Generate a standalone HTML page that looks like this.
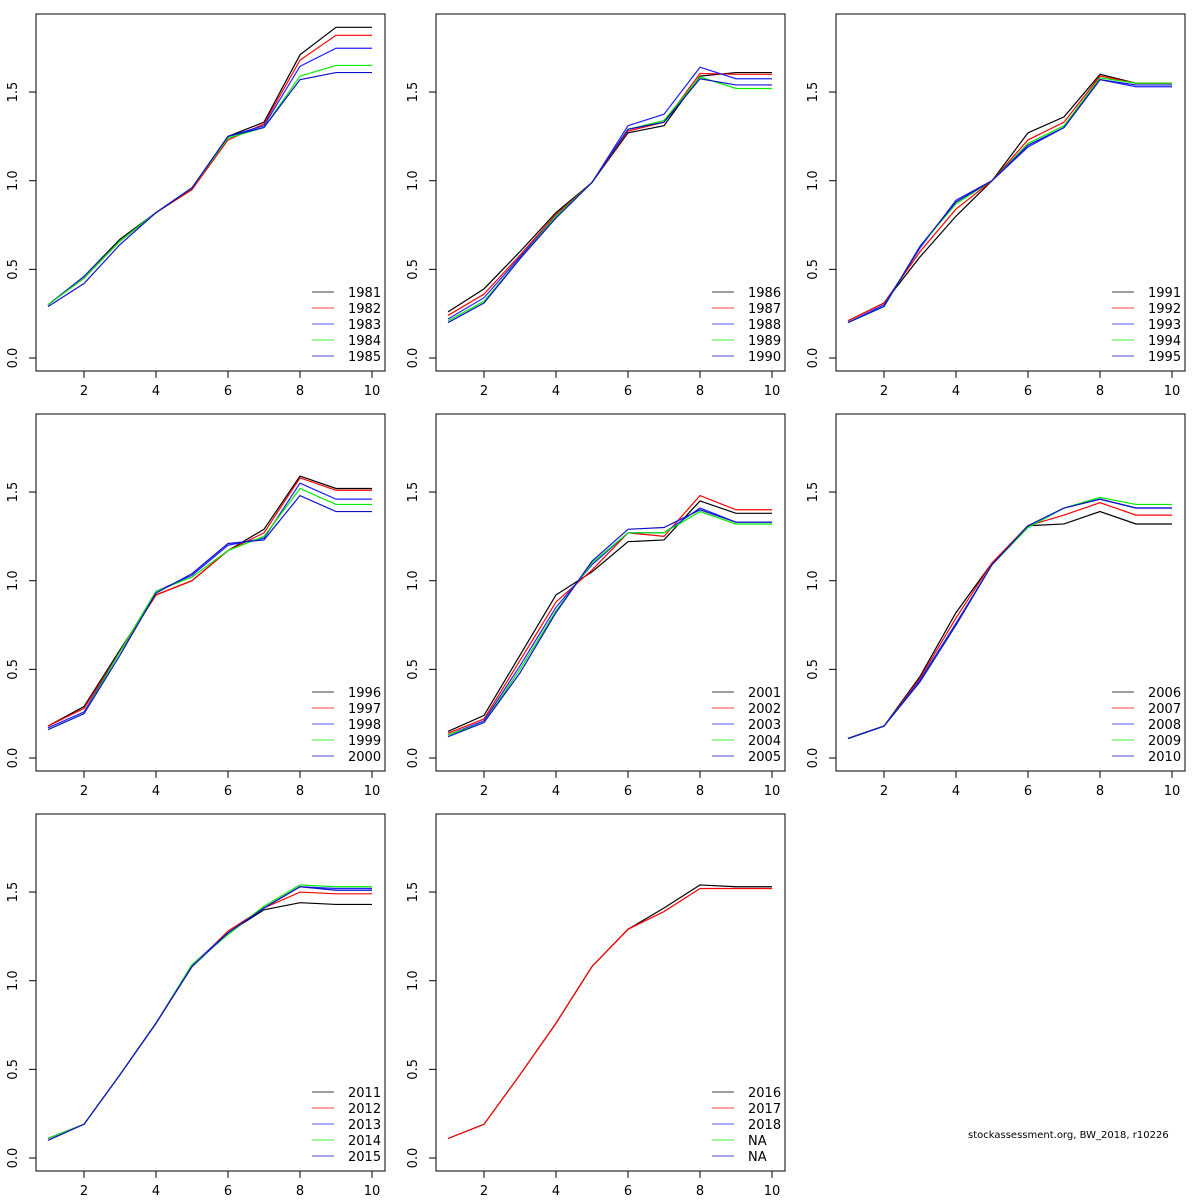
<!DOCTYPE html>
<html><head><meta charset="utf-8"><style>
body{margin:0;background:#fff}
svg{display:block;font-family:"DejaVu Sans","Liberation Sans",sans-serif}
</style></head><body>
<svg id="chart" width="1200" height="1200" xmlns="http://www.w3.org/2000/svg"></svg>
<script>
const ages = [1,2,3,4,5,6,7,8,9,10];
const colors = ["#000000","#ff0000","#2020ff","#00ee00","#1010cc"];
const xTicks = [2,4,6,8,10];
const yTicks = [0,0.5,1.0,1.5];
const yTickLabels = ["0.0","0.5","1.0","1.5"];
const labels1 = ["1981","1982","1983","1984","1985"];
const p1s1 = [0.30,0.46,0.67,0.82,0.95,1.25,1.33,1.71,1.865,1.865];
const p1s2 = [0.30,0.45,0.66,0.82,0.95,1.23,1.32,1.68,1.82,1.82];
const p1s3 = [0.30,0.46,0.66,0.82,0.96,1.25,1.31,1.645,1.747,1.747];
const p1s4 = [0.30,0.45,0.66,0.82,0.96,1.24,1.30,1.59,1.65,1.65];
const p1s5 = [0.29,0.42,0.64,0.82,0.96,1.25,1.30,1.57,1.61,1.61];
const labels2 = ["1986","1987","1988","1989","1990"];
const p2s1 = [0.26,0.39,0.60,0.82,0.99,1.27,1.31,1.59,1.61,1.61];
const p2s2 = [0.24,0.36,0.58,0.81,0.99,1.28,1.33,1.605,1.60,1.60];
const p2s3 = [0.22,0.34,0.57,0.80,0.99,1.31,1.375,1.64,1.575,1.575];
const p2s4 = [0.21,0.32,0.56,0.80,0.99,1.29,1.34,1.585,1.52,1.52];
const p2s5 = [0.20,0.31,0.56,0.79,0.99,1.29,1.33,1.575,1.54,1.54];
const labels3 = ["1991","1992","1993","1994","1995"];
const p3s1 = [0.21,0.31,0.57,0.80,1.00,1.27,1.36,1.60,1.55,1.55];
const p3s2 = [0.21,0.31,0.60,0.84,1.00,1.23,1.33,1.59,1.55,1.55];
const p3s3 = [0.20,0.30,0.62,0.89,1.00,1.19,1.30,1.57,1.53,1.53];
const p3s4 = [0.20,0.29,0.63,0.87,1.00,1.21,1.31,1.58,1.55,1.55];
const p3s5 = [0.20,0.29,0.63,0.88,1.00,1.20,1.30,1.57,1.54,1.54];
const labels4 = ["1996","1997","1998","1999","2000"];
const p4s1 = [0.18,0.29,0.61,0.92,1.00,1.17,1.29,1.59,1.52,1.52];
const p4s2 = [0.18,0.28,0.60,0.92,1.00,1.17,1.27,1.58,1.51,1.51];
const p4s3 = [0.17,0.26,0.60,0.94,1.03,1.20,1.24,1.55,1.46,1.46];
const p4s4 = [0.16,0.25,0.60,0.94,1.02,1.17,1.25,1.52,1.43,1.43];
const p4s5 = [0.16,0.25,0.58,0.93,1.04,1.21,1.23,1.48,1.39,1.39];
const labels5 = ["2001","2002","2003","2004","2005"];
const p5s1 = [0.15,0.24,0.58,0.92,1.05,1.22,1.23,1.45,1.38,1.38];
const p5s2 = [0.14,0.22,0.55,0.88,1.06,1.27,1.25,1.48,1.40,1.40];
const p5s3 = [0.13,0.21,0.52,0.85,1.09,1.27,1.27,1.41,1.33,1.33];
const p5s4 = [0.13,0.20,0.50,0.83,1.10,1.27,1.27,1.39,1.32,1.32];
const p5s5 = [0.12,0.20,0.48,0.82,1.11,1.29,1.30,1.40,1.33,1.33];
const labels6 = ["2006","2007","2008","2009","2010"];
const p6s1 = [0.11,0.18,0.46,0.82,1.10,1.31,1.32,1.39,1.32,1.32];
const p6s2 = [0.11,0.18,0.45,0.79,1.10,1.31,1.37,1.44,1.37,1.37];
const p6s3 = [0.11,0.18,0.44,0.76,1.09,1.30,1.41,1.46,1.41,1.41];
const p6s4 = [0.11,0.18,0.43,0.75,1.09,1.30,1.41,1.47,1.43,1.43];
const p6s5 = [0.11,0.18,0.43,0.75,1.09,1.31,1.41,1.46,1.41,1.41];
const labels7 = ["2011","2012","2013","2014","2015"];
const p7s1 = [0.11,0.19,0.47,0.76,1.08,1.27,1.40,1.44,1.43,1.43];
const p7s2 = [0.11,0.19,0.47,0.76,1.08,1.28,1.41,1.50,1.49,1.49];
const p7s3 = [0.11,0.19,0.47,0.76,1.09,1.27,1.41,1.53,1.52,1.52];
const p7s4 = [0.11,0.19,0.47,0.76,1.09,1.26,1.42,1.54,1.53,1.53];
const p7s5 = [0.10,0.19,0.47,0.76,1.08,1.27,1.41,1.53,1.51,1.51];
const labels8 = ["2016","2017","2018","NA","NA"];
const p8s1 = [0.11,0.19,0.47,0.76,1.08,1.29,1.41,1.54,1.53,1.53];
const p8s2 = [0.11,0.19,0.47,0.76,1.08,1.29,1.39,1.52,1.52,1.52];

const panels = [
 {labels:labels1, series:[p1s1,p1s2,p1s3,p1s4,p1s5]},
 {labels:labels2, series:[p2s1,p2s2,p2s3,p2s4,p2s5]},
 {labels:labels3, series:[p3s1,p3s2,p3s3,p3s4,p3s5]},
 {labels:labels4, series:[p4s1,p4s2,p4s3,p4s4,p4s5]},
 {labels:labels5, series:[p5s1,p5s2,p5s3,p5s4,p5s5]},
 {labels:labels6, series:[p6s1,p6s2,p6s3,p6s4,p6s5]},
 {labels:labels7, series:[p7s1,p7s2,p7s3,p7s4,p7s5]},
 {labels:labels8, series:[p8s1,p8s2]}
];
const NS="http://www.w3.org/2000/svg";
const svg=document.getElementById('chart');
function mk(tag,attrs,parent){const e=document.createElementNS(NS,tag);for(const k in attrs)e.setAttribute(k,attrs[k]);(parent||svg).appendChild(e);return e;}
const boxW=349, boxH=357;
panels.forEach((p,i)=>{
  const col=i%3,row=Math.floor(i/3);
  const L=36+col*400, T=14+row*400, B=T+boxH;
  const xs=v=>L+12+(v-1)*36;
  const ys=v=>(T+344)-v*177.3;
  const g=mk('g',{});
  
  
  const box=mk('rect',{x:L,y:T,width:boxW,height:boxH,fill:'none',stroke:'#000','stroke-width':1},g);
  
  
  xTicks.forEach(t=>{
    const tk=mk('line',{x1:xs(t),x2:xs(t),y1:B,y2:B+7,stroke:'#000'},g);
    
    
    const tx=mk('text',{x:xs(t),y:B+24,'font-size':13,'text-anchor':'middle'},g);
    
    
    tx.textContent=t;
  });
  yTicks.forEach((t,j)=>{
    const tk=mk('line',{x1:L-7,x2:L,y1:ys(t),y2:ys(t),stroke:'#000'},g);
    
    
    const tx=mk('text',{x:0,y:0,'font-size':13,'text-anchor':'middle',transform:`translate(${L-19},${ys(t)}) rotate(-90)`},g);
    
    
    tx.textContent=yTickLabels[j];
  });
  p.series.forEach((s,k)=>{
    const pl=mk('polyline',{points:s.map((v,a)=>xs(ages[a])+','+ys(v)).join(' '),fill:'none',stroke:colors[k],'stroke-width':1.2},g);
    
    
  });
  p.labels.forEach((lb,k)=>{
    const y=T+278+k*16;
    const ln=mk('line',{x1:L+276,x2:L+298,y1:y,y2:y,stroke:colors[k],'stroke-opacity':0.5,'stroke-width':1.5},g);
    
    
    const tx=mk('text',{x:L+312,y:y+5,'font-size':13},g);
    
    
    tx.textContent=lb;
  });
});
const ft=mk('text',{x:968,y:1138,'font-size':10});


ft.textContent='stockassessment.org, BW_2018, r10226';
</script>
</body></html>
